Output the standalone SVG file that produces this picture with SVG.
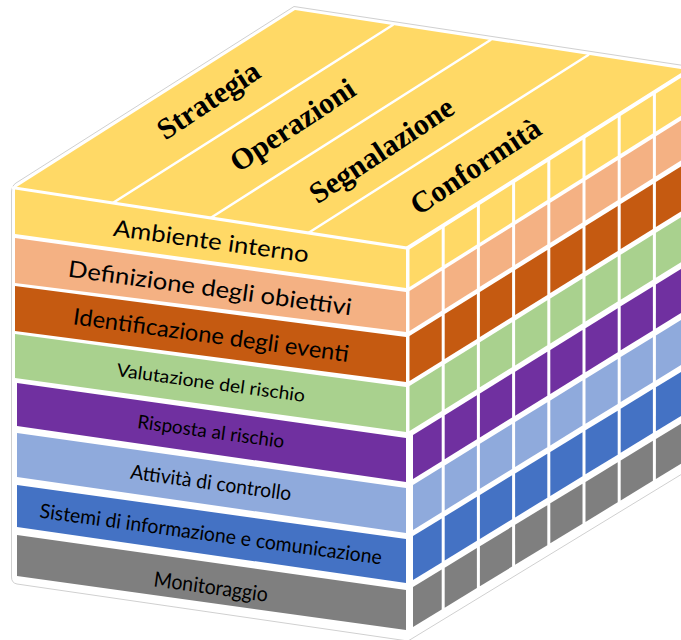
<svg xmlns="http://www.w3.org/2000/svg" xmlns:xlink="http://www.w3.org/1999/xlink" width="681" height="640" viewBox="0 0 681 640">
<style>
.top{font-family:"Liberation Serif","Times New Roman",serif;font-weight:bold;font-size:30px;fill:#000;text-anchor:middle}
.lbl{font-family:Lato,"Noto Sans",sans-serif;fill:#000;text-anchor:middle}
.sep{stroke:#fff;fill:none;stroke-linecap:round}
</style>
<defs>
<g id="rowA"><rect x="1.5" y="0" width="32.2" height="1"/><rect x="36.7" y="0" width="32.2" height="1"/><rect x="71.9" y="0" width="32.2" height="1"/><rect x="107.1" y="0" width="32.2" height="1"/><rect x="142.3" y="0" width="32.2" height="1"/><rect x="177.5" y="0" width="32.2" height="1"/><rect x="212.7" y="0" width="32.2" height="1"/><rect x="247.9" y="0" width="32.2" height="1"/></g>
<g id="rowB"><rect x="5" y="0" width="28.7" height="1"/><rect x="36.7" y="0" width="32.2" height="1"/><rect x="71.9" y="0" width="32.2" height="1"/><rect x="107.1" y="0" width="32.2" height="1"/><rect x="142.3" y="0" width="32.2" height="1"/><rect x="177.5" y="0" width="32.2" height="1"/><rect x="212.7" y="0" width="32.2" height="1"/><rect x="247.9" y="0" width="32.2" height="1"/></g>
</defs>
<rect width="681" height="640" fill="#fff"/>
<path id="outline" d="M 11.5 192 Q 11.5 186 16 183 L 294 6.5 L 700 68 L 700 463 L 408 641 L 17 584 Q 11.5 583 11.5 577 Z" fill="#fff" stroke="#d0d0d0" stroke-width="1"/>
<g id="top-face">
<polygon points="15,188 406,248 687,70 295,10" fill="#FFD966"/>
<line class="sep" x1="112.75" y1="203" x2="392.75" y2="25" stroke-width="2.5"/>
<line class="sep" x1="210.5" y1="218" x2="490.5" y2="40" stroke-width="2.5"/>
<line class="sep" x1="308.25" y1="233" x2="588.25" y2="55" stroke-width="2.5"/>
<text class="top" transform="translate(209 101) rotate(-33.5)" y="9">Strategia</text>
<text class="top" transform="translate(293 126) rotate(-33.5)" y="9">Operazioni</text>
<text class="top" transform="translate(382 151) rotate(-33.5)" y="9">Segnalazione</text>
<text class="top" transform="translate(476 167) rotate(-33.5)" y="9">Conformità</text>
</g>
<g id="right-face">
<use href="#rowA" fill="#FFD966" transform="matrix(1 -0.631 0 1 408 0) translate(0 248) scale(1 40)"/>
<use href="#rowA" fill="#F4B183" transform="matrix(1 -0.628 0 1 408 0) translate(0 292) scale(1 40)"/>
<use href="#rowA" fill="#C55A11" transform="matrix(1 -0.625 0 1 408 0) translate(0 337) scale(1 45)"/>
<use href="#rowA" fill="#A9D18E" transform="matrix(1 -0.622 0 1 408 0) translate(0 387) scale(1 45)"/>
<use href="#rowB" fill="#7030A0" transform="matrix(1 -0.619 0 1 408 0) translate(0 438) scale(1 44)"/>
<use href="#rowB" fill="#8FAADC" transform="matrix(1 -0.6155 0 1 408 0) translate(0 488) scale(1 45)"/>
<use href="#rowB" fill="#4472C4" transform="matrix(1 -0.612 0 1 408 0) translate(0 539) scale(1 44)"/>
<use href="#rowB" fill="#7F7F7F" transform="matrix(1 -0.609 0 1 408 0) translate(0 590) scale(1 40)"/>
</g>
<g id="edges">
<line class="sep" x1="13" y1="187.7" x2="407" y2="248" stroke-width="3"/>
<line class="sep" x1="407" y1="248.5" x2="692" y2="68.5" stroke-width="4"/>
</g>
<g id="ambiente-interno">
<polygon points="15,189.5 406,249.5 406,288 15,234" fill="#FFD966"/>
<text class="lbl" font-size="23" transform="translate(210 249) rotate(7.8)" textLength="197" lengthAdjust="spacingAndGlyphs">Ambiente interno</text>
</g>
<g id="definizione-obiettivi">
<polygon points="15,238 406,292 406,332 15,283" fill="#F4B183"/>
<text class="lbl" font-size="23" transform="translate(209 296) rotate(7.8)" textLength="286" lengthAdjust="spacingAndGlyphs">Definizione degli obiettivi</text>
</g>
<g id="identificazione-eventi">
<polygon points="15,286 406,337 406,382 15,331" fill="#C55A11"/>
<text class="lbl" font-size="23" transform="translate(210 343) rotate(7.8)" textLength="278" lengthAdjust="spacingAndGlyphs">Identificazione degli eventi</text>
</g>
<g id="valutazione-rischio">
<polygon points="15,334 406,387 406,432 15,378" fill="#A9D18E"/>
<text class="lbl" font-size="18" transform="translate(210 389) rotate(7.8)" textLength="190" lengthAdjust="spacingAndGlyphs">Valutazione del rischio</text>
</g>
<g id="risposta-rischio">
<polygon points="17,383 406,438 406,482 17,426" fill="#7030A0"/>
<text class="lbl" font-size="19" transform="translate(210 438) rotate(7.8)" textLength="148" lengthAdjust="spacingAndGlyphs">Risposta al rischio</text>
</g>
<g id="attivita-controllo">
<polygon points="17,433 406,488 406,533 17,477" fill="#8FAADC"/>
<text class="lbl" font-size="20" transform="translate(210 489.5) rotate(7.8)" textLength="162" lengthAdjust="spacingAndGlyphs">Attività di controllo</text>
</g>
<g id="sistemi-informazione">
<polygon points="17,485 406,539 406,583 17,527" fill="#4472C4"/>
<text class="lbl" font-size="20" transform="translate(210 541) rotate(7.8)" textLength="345" lengthAdjust="spacingAndGlyphs">Sistemi di informazione e comunicazione</text>
</g>
<g id="monitoraggio">
<polygon points="17,535 406,590 406,630 17,576" fill="#7F7F7F"/>
<text class="lbl" font-size="21" transform="translate(210 594) rotate(7.8)" textLength="115" lengthAdjust="spacingAndGlyphs">Monitoraggio</text>
</g>
</svg>
